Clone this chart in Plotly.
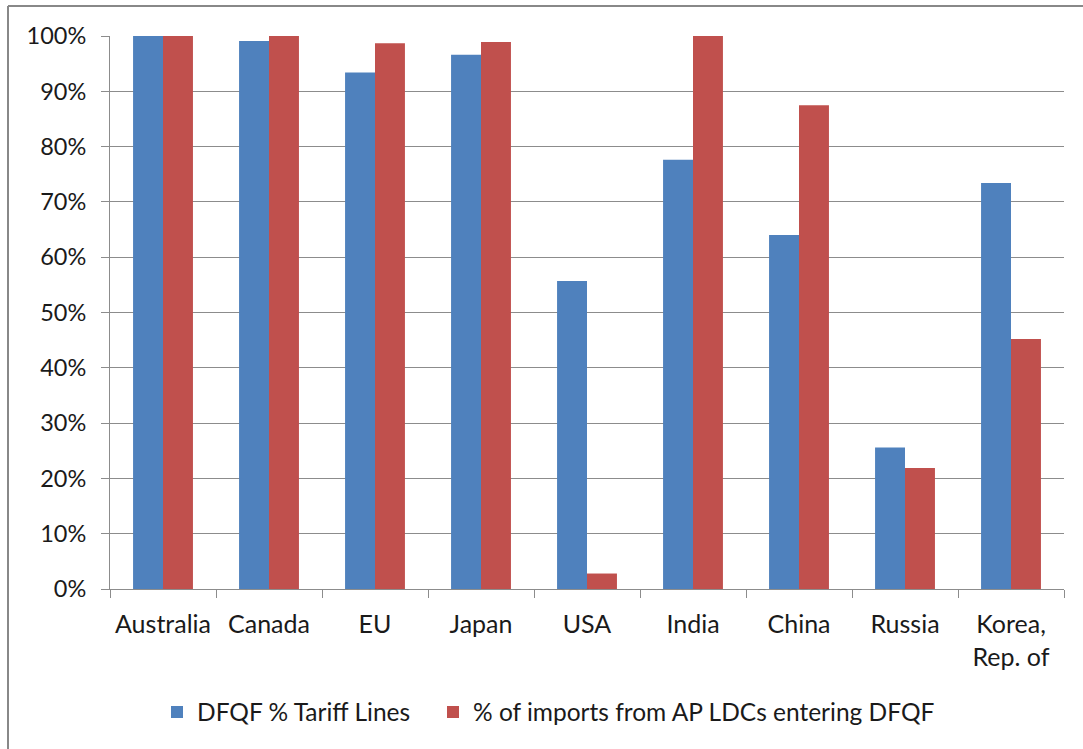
import plotly.graph_objects as go

categories = ["Australia", "Canada", "EU", "Japan", "USA", "India", "China", "Russia", "Korea,<br>Rep. of"]
tariff_lines = [100.0, 99.1, 93.4, 96.6, 55.7, 77.6, 64.0, 25.6, 73.4]
imports_dfqf = [100.0, 100.0, 98.7, 98.9, 2.8, 100.0, 87.5, 21.9, 45.2]
series_names = ["DFQF % Tariff Lines", "% of imports from AP LDCs entering DFQF"]
y_ticks = list(range(0, 101, 10))

BLUE = "#4F81BD"
RED = "#C0504D"
GRID = "#8C8C8C"
FONT = "Lato, Open Sans, sans-serif"

fig = go.Figure()
fig.add_trace(go.Bar(x=categories, y=tariff_lines, name=series_names[0],
                     marker=dict(color=BLUE, line=dict(width=0)), legend="legend"))
fig.add_trace(go.Bar(x=categories, y=imports_dfqf, name=series_names[1],
                     marker=dict(color=RED, line=dict(width=0)), legend="legend2"))

L, R, T, B = 110, 1064, 36, 589
W, H = 1083, 749
pw, ph = R - L, B - T

def px_x(x):
    return (x - L) / pw

def px_y(y):
    return (B - y) / ph

leg_common = dict(orientation="h", y=px_y(712), xanchor="left", yanchor="middle",
                  font=dict(size=24.5), itemwidth=30, bgcolor="rgba(0,0,0,0)")

fig.update_layout(
    width=W, height=H,
    margin=dict(l=L, r=W - R, t=T, b=H - B, pad=0),
    paper_bgcolor="white", plot_bgcolor="white",
    barmode="group", bargap=0.435, bargroupgap=0,
    font=dict(family=FONT, size=23, color="#1a1a1a"),
    showlegend=True,
    legend=dict(x=px_x(157), **leg_common),
    legend2=dict(x=px_x(433), **leg_common),
    xaxis=dict(type="category", showline=True, linecolor=GRID, linewidth=1,
               ticks="outside", ticklen=8, tickcolor=GRID, tickson="boundaries",
               showgrid=False, tickfont=dict(size=25), range=[-0.5, 8.5],
               ticklabelstandoff=13),
    yaxis=dict(range=[0, 100], tickvals=y_ticks, ticktext=[f"{v}%" for v in y_ticks],
               showline=True, linecolor=GRID, linewidth=1, ticks="outside", ticklen=8,
               tickcolor=GRID, showgrid=True, gridcolor=GRID, gridwidth=1,
               zeroline=False, tickfont=dict(size=23.5), ticklabelstandoff=10),
    shapes=[
        dict(type="line", xref="paper", yref="paper", x0=px_x(8), x1=px_x(8),
             y0=px_y(6), y1=px_y(760), line=dict(color="#888888", width=2)),
        dict(type="line", xref="paper", yref="paper", x0=px_x(8), x1=px_x(1090),
             y0=px_y(6), y1=px_y(6), line=dict(color="#888888", width=2)),
    ],
)

fig.write_html("out.html")
